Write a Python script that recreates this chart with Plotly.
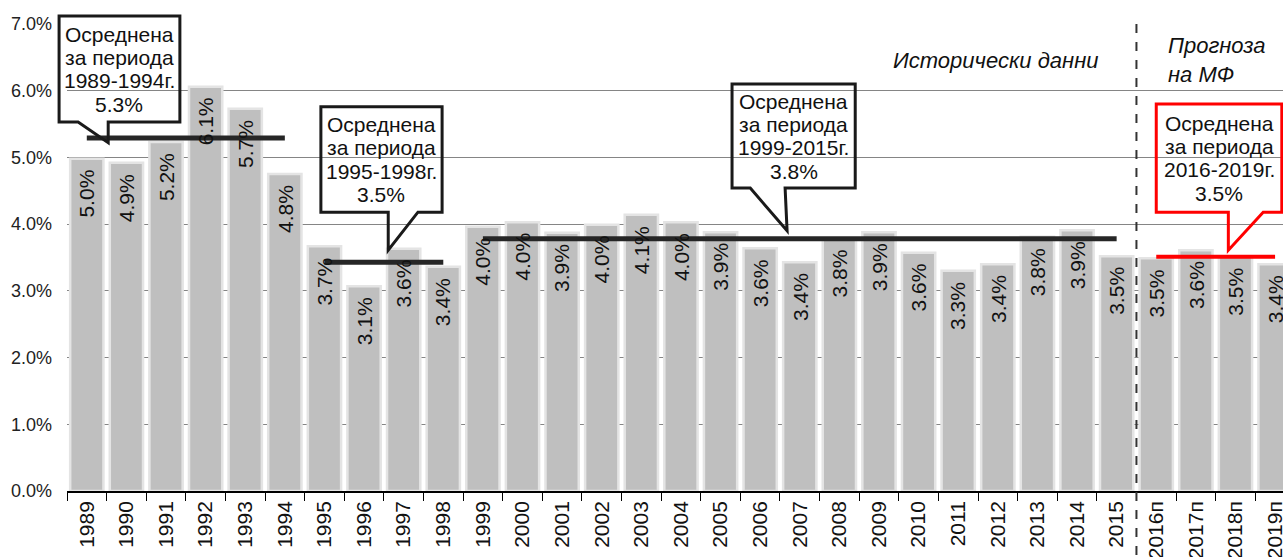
import plotly.graph_objects as go

# ---------------- data ----------------
years = ["1989", "1990", "1991", "1992", "1993", "1994", "1995", "1996", "1997", "1998",
         "1999", "2000", "2001", "2002", "2003", "2004", "2005", "2006", "2007", "2008",
         "2009", "2010", "2011", "2012", "2013", "2014", "2015",
         "2016п", "2017п", "2018п", "2019п"]
values = [4.98, 4.92, 5.23, 6.06, 5.73, 4.75, 3.67, 3.07, 3.63, 3.36,
          3.96, 4.03, 3.87, 3.99, 4.14, 4.03, 3.88, 3.64, 3.43, 3.79,
          3.88, 3.57, 3.30, 3.40, 3.81, 3.91, 3.52,
          3.49, 3.61, 3.52, 3.40]
value_labels = ["5.0%", "4.9%", "5.2%", "6.1%", "5.7%", "4.8%", "3.7%", "3.1%", "3.6%", "3.4%",
                "4.0%", "4.0%", "3.9%", "4.0%", "4.1%", "4.0%", "3.9%", "3.6%", "3.4%", "3.8%",
                "3.9%", "3.6%", "3.3%", "3.4%", "3.8%", "3.9%", "3.5%",
                "3.5%", "3.6%", "3.5%", "3.4%"]

period_start = ["1989", "1995", "1999", "2016п"]
period_end = ["1994", "1998", "2015", "2019п"]
period_avg = [5.29, 3.43, 3.78, 3.51]
period_range_text = ["1989-1994г.", "1995-1998г.", "1999-2015г.", "2016-2019г."]
period_avg_text = ["5.3%", "3.5%", "3.8%", "3.5%"]
period_color = ["#262626", "#262626", "#262626", "#FF0000"]

# callout geometry (category index / percent units): box x0, x1, y0, y1, pointer base l, r, tip x, tip y
callouts = [
    (-0.70, 2.35, 5.53, 7.12, -0.22, 0.54, 0.54, 5.22),
    (5.91, 8.97, 4.18, 5.76, 7.61, 8.36, 7.61, 3.61),
    (16.29, 19.40, 4.54, 6.10, 16.75, 17.63, 17.68, 3.90),
    (27.00, 30.17, 4.18, 5.80, 28.82, 29.70, 28.82, 3.61),
]

XR = [-0.5, 30.2]
YR = [0, 7]
FONT = "Liberation Sans, Arial, sans-serif"
LINE_STEP = 0.35  # callout text line spacing in percent units


def px(xi):
    return (xi - XR[0]) / (XR[1] - XR[0])


def py(yv):
    return (yv - YR[0]) / (YR[1] - YR[0])


fig = go.Figure()

fig.add_trace(go.Bar(
    x=years, y=values, width=0.84,
    marker=dict(color="#BFBFBF", line=dict(color="#E4E4E4", width=2.5)),
    hoverinfo="skip", showlegend=False,
))

for s, e, a, c in zip(period_start, period_end, period_avg, period_color):
    fig.add_trace(go.Scatter(
        x=[s, e], y=[a, a], mode="lines",
        line=dict(color=c, width=5 if c != "#FF0000" else 4),
        hoverinfo="skip", showlegend=False, cliponaxis=False,
    ))

annotations = []
for i, (v, t) in enumerate(zip(values, value_labels)):
    annotations.append(dict(
        x=i, y=v, xref="x", yref="y", text=t, showarrow=False,
        textangle=-90, yanchor="top", xanchor="center", yshift=-9,
        font=dict(family=FONT, size=21, color="#111111"),
    ))

shapes = []
for (x0, x1, y0, y1, bl, br, tx, ty), col, rng, avg in zip(
        callouts, period_color, period_range_text, period_avg_text):
    pts = [(x0, y1), (x1, y1), (x1, y0), (br, y0), (tx, ty), (bl, y0), (x0, y0)]
    path = "M " + " L ".join(f"{px(a):.5f},{py(b):.5f}" for a, b in pts) + " Z"
    shapes.append(dict(type="path", path=path, xref="paper", yref="paper",
                       line=dict(color=col if col == "#FF0000" else "#1A1A1A", width=3),
                       fillcolor="rgba(0,0,0,0)", layer="above"))
    lines = ["Осреднена", "за периода", rng, avg]
    cy = (y0 + y1) / 2
    for k, ln in enumerate(lines):
        annotations.append(dict(
            x=px((x0 + x1) / 2), y=py(cy + (1.5 - k) * LINE_STEP),
            xref="paper", yref="paper",
            text=ln, showarrow=False,
            xanchor="center", yanchor="middle", align="center",
            font=dict(family=FONT, size=21, color="#111111"),
        ))

# forecast divider
shapes.append(dict(type="line", xref="paper", yref="paper",
                   x0=px(26.5), x1=px(26.5), y0=1.0, y1=-0.16,
                   line=dict(color="#333333", width=2, dash="dash"), layer="above"))

annotations.append(dict(
    x=px(25.58), y=py(6.46), xref="paper", yref="paper",
    text="<i>Исторически данни</i>", showarrow=False,
    xanchor="right", yanchor="middle",
    font=dict(family=FONT, size=22, color="#111111"),
))
annotations.append(dict(
    x=px(27.25), y=py(6.46), xref="paper", yref="paper",
    text="<i>Прогноза<br>на МФ</i>", showarrow=False,
    xanchor="left", yanchor="middle", align="left",
    font=dict(family=FONT, size=22, color="#111111"),
))

fig.update_layout(
    width=1283, height=557,
    margin=dict(l=67, r=0, t=24, b=66),
    plot_bgcolor="white", paper_bgcolor="white",
    bargap=0.16,
    font=dict(family=FONT, color="#222222"),
    shapes=shapes, annotations=annotations,
    xaxis=dict(
        type="category", range=XR, tickson="boundaries",
        ticks="outside", ticklen=8, tickcolor="#000000", tickwidth=1,
        tickangle=-90, tickfont=dict(family=FONT, size=21, color="#111111"),
        showline=True, linecolor="#000000", linewidth=1.5,
        showgrid=False, automargin=False, fixedrange=True,
    ),
    yaxis=dict(
        range=YR, dtick=1, tick0=0, tickformat=".1f", ticksuffix="%",
        showgrid=True, gridcolor="#858585", gridwidth=1,
        zeroline=False, showline=False, ticks="",
        ticklabelstandoff=14,
        tickfont=dict(family=FONT, size=18, color="#222222"),
        automargin=False, fixedrange=True,
    ),
)

fig.write_html(
    "out.html",
    config={"displayModeBar": False},
    post_script="document.body.style.margin='0';document.body.style.overflow='hidden';"
                "document.documentElement.style.overflow='hidden';",
)
